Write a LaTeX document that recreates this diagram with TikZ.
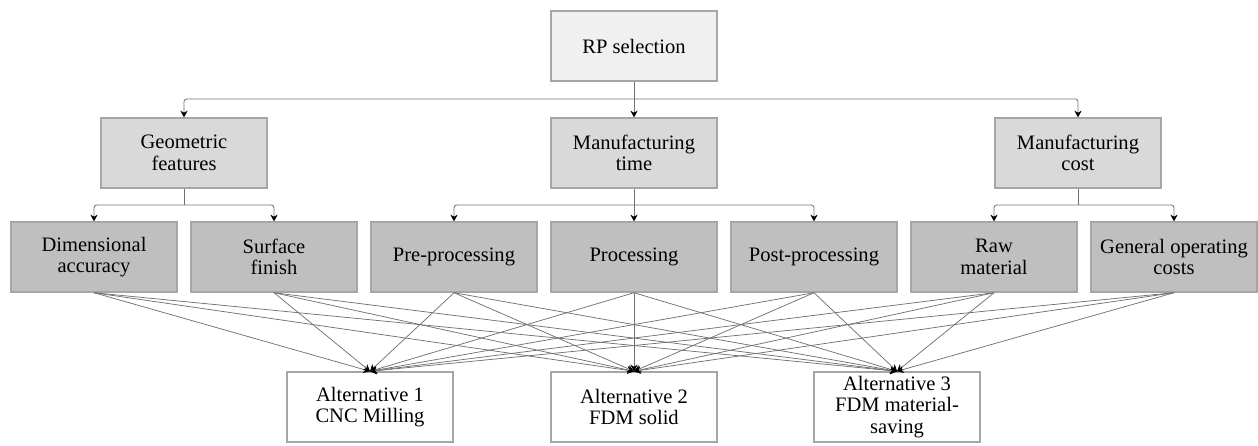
\documentclass[tikz,border=0pt]{standalone}
\usepackage{fontspec}
\setmainfont{Liberation Serif}
\usetikzlibrary{arrows.meta}
\definecolor{edgegray}{HTML}{A6A6A6}
\definecolor{linegray}{HTML}{707070}
\definecolor{topfill}{HTML}{F0F0F0}
\definecolor{midfill}{HTML}{D9D9D9}
\definecolor{subfill}{HTML}{BFBFBF}
\tikzset{
  x=0.75pt, y=-0.75pt,
  box/.style={draw=edgegray, line width=1.1pt, minimum width=124.5pt, minimum height=52.5pt,
    inner sep=1pt, align=center, font=\fontsize{15.4}{16.2}\selectfont, text=black},
  goalbox/.style={box, fill=topfill},
  critbox/.style={box, fill=midfill},
  subbox/.style={box, fill=subfill},
  altbox/.style={box, fill=white},
  tip/.style={-{Stealth[length=5pt,width=5.5pt,color=black]}},
  tree/.style={draw=linegray, line width=0.6pt, rounded corners=2pt, tip},
  link/.style={draw=linegray, line width=0.55pt, tip}
}
\begin{document}
\begin{tikzpicture}
\useasboundingbox (0,0) rectangle (1258,446);

% goal
\node[goalbox] (goal) at (634,46) {RP selection};

% criteria
\node[critbox] (geo)  at (184,153)  {Geometric\\features};
\node[critbox] (time) at (634,153)  {Manufacturing\\time};
\node[critbox] (cost) at (1078,153) {Manufacturing\\cost};

% sub-criteria
\node[subbox] (dim)  at (94,257)   {Dimensional\\accuracy};
\node[subbox] (surf) at (274,257)  {Surface\\finish};
\node[subbox] (pre)  at (454,257)  {Pre-processing};
\node[subbox] (proc) at (634,257)  {Processing};
\node[subbox] (post) at (814,257)  {Post-processing};
\node[subbox] (raw)  at (994,257)  {Raw\\material};
\node[subbox] (gen)  at (1174,257) {General operating\\costs};

% alternatives
\node[altbox] (alt1) at (370,407) {Alternative 1\\CNC Milling};
\node[altbox] (alt2) at (634,407) {Alternative 2\\FDM solid};
\node[altbox] (alt3) at (897,407) {Alternative 3\\FDM material-\\saving};

% goal to criteria
\coordinate (gj) at (634,99);
\draw[draw=linegray, line width=0.6pt] (goal.south) -- (gj);
\draw[tree] (gj) -| (geo.north);
\draw[tree] (gj) -- (time.north);
\draw[tree] (gj) -| (cost.north);

% criteria to sub-criteria
\coordinate (gjg) at (184,205);
\coordinate (gjt) at (634,205);
\coordinate (gjc) at (1078,205);
\draw[draw=linegray, line width=0.6pt] (geo.south) -- (gjg);
\draw[draw=linegray, line width=0.6pt] (time.south) -- (gjt);
\draw[draw=linegray, line width=0.6pt] (cost.south) -- (gjc);
\draw[tree] (gjg) -| (dim.north);
\draw[tree] (gjg) -| (surf.north);
\draw[tree] (gjt) -| (pre.north);
\draw[tree] (gjt) -- (proc.north);
\draw[tree] (gjt) -| (post.north);
\draw[tree] (gjc) -| (raw.north);
\draw[tree] (gjc) -| (gen.north);

% every sub-criterion to every alternative
\foreach \s in {dim,surf,pre,proc,post,raw,gen}
  \foreach \a in {alt1,alt2,alt3}
    \draw[link] (\s.south) -- (\a.north);
\end{tikzpicture}
\end{document}
